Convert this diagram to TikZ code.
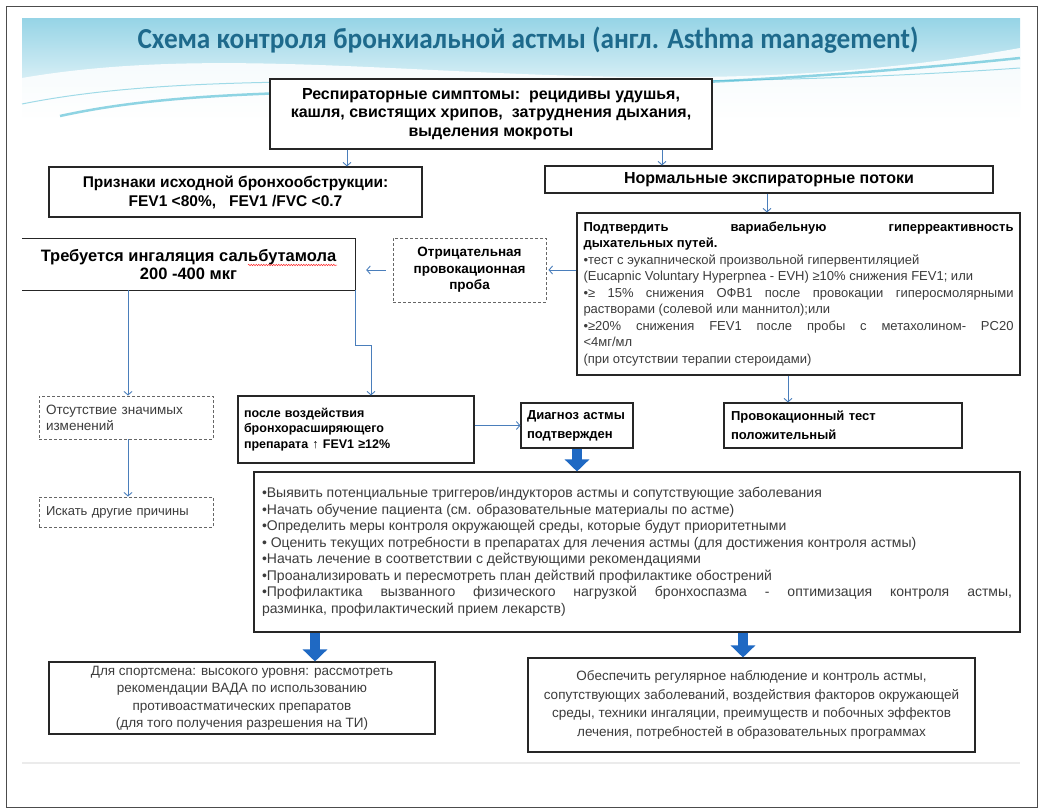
\documentclass[tikz,border=0pt]{standalone}
\usepackage{fontspec}
\setmainfont{Liberation Sans}
\newfontfamily\titlefont[FakeStretch=0.94]{Carlito}
\usetikzlibrary{arrows.meta,decorations.pathmorphing}

\definecolor{linkblue}{RGB}{74,126,187}
\definecolor{blockblue}{RGB}{31,105,195}
\definecolor{titleteal}{RGB}{30,106,140}
\definecolor{bannerblue}{RGB}{150,212,230}
\definecolor{wavecyan}{RGB}{70,185,210}
\definecolor{textgray}{RGB}{60,60,60}

\newcommand{\spreadline}[2]{\makebox[#1][s]{#2}}

\begin{document}
\begin{tikzpicture}[x=1pt,y=-1pt,>={Straight Barb[length=3.5pt,width=8pt]}]
 \tikzset{box/.style={draw=black!85, line width=1.1pt, fill=white, inner sep=3pt},
   dbox/.style={draw=black!60, line width=0.9pt, dash pattern=on 3pt off 2pt, fill=white, inner sep=3pt},
   link/.style={->, draw=linkblue, line width=0.9pt},
   bigarrow/.style={-{Triangle[length=12pt,width=24pt]}, draw=blockblue, line width=10pt},
   spell/.style={draw=red!80, line width=0.5pt, decorate, decoration={snake, amplitude=0.8pt, segment length=2.5pt}}}
 \useasboundingbox (0,0) rectangle (1043,811);
 % slide frame and banner
 \draw[black!70, line width=1pt] (6,6) rectangle (1037,807);
 \fill[top color=bannerblue, bottom color=white] (22,18) rectangle (1020,118);
 \fill[white, opacity=0.85] (22,78) .. controls (300,30) and (620,120) .. (1020,48) -- (1020,118) -- (22,118) -- cycle;
 \draw[wavecyan, line width=2.5pt, opacity=0.6] (60,116) .. controls (260,72) and (520,110) .. (1020,58);
 \draw[wavecyan, line width=1pt, opacity=0.5] (22,104) .. controls (240,60) and (560,100) .. (1020,68);
 \draw[black!8, line width=2pt] (22,763) -- (1020,763);
 \node[font=\titlefont\bfseries\fontsize{29}{32}\selectfont, text=titleteal] (title) at (528,40) {Схема контроля бронхиальной астмы (англ. Asthma management)};

 % boxes
 \node[box, minimum width=442pt, minimum height=70pt, align=center, font=\bfseries\fontsize{16}{18.5}\selectfont] (symp) at (491,114) {Респираторные симптомы:\ \ рецидивы удушья,\\ кашля, свистящих хрипов,\ \ затруднения дыхания,\\ выделения мокроты};
 \node[box, minimum width=373pt, minimum height=50pt, align=center, font=\bfseries\fontsize{15.5}{19}\selectfont] (priz) at (235.5,192) {Признаки исходной бронхообструкции:\\ FEV1 <80\%,\ \ \ FEV1 /FVC <0.7};
 \node[box, minimum width=448pt, minimum height=27pt, font=\bfseries\fontsize{16}{18}\selectfont] (norm) at (769,179.5) {Нормальные экспираторные потоки};
 \node[box, minimum width=443pt, minimum height=162pt, align=left, text=textgray, font=\fontsize{13}{16.5}\selectfont] (conf) at (798.5,294) {{\bfseries\color{black}\spreadline{430pt}{Подтвердить вариабельную гиперреактивность}}\\ {\bfseries\color{black}дыхательных путей.}\\ •тест с эукапнической произвольной гипервентиляцией\\ (Eucapnic Voluntary Hyperpnea - EVH) ≥10\% снижения FEV1; или\\ \spreadline{430pt}{•≥ 15\% снижения ОФВ1 после провокации гиперосмолярными}\\ растворами (солевой или маннитол);или\\ \spreadline{430pt}{•≥20\% снижения FEV1 после пробы с метахолином- PC20}\\ <4мг/мл\\ (при отсутствии терапии стероидами)};
 \node[minimum width=333pt, minimum height=51pt, align=center, font=\bfseries\fontsize{16.5}{18}\selectfont] (sal) at (188.5,264.5) {Требуется ингаляция сальбутамола\\ 200 -400 мкг};
 \draw[black!85, line width=1.1pt] (sal.north west) -- (sal.north east) -- (sal.south east) -- (sal.south west);
 \draw[spell] ([xshift=59.5pt,yshift=-0.5pt]sal.center) -- ++(89,0);
 \node[dbox, minimum width=153pt, minimum height=64pt, align=center, font=\bfseries\fontsize{13.5}{16.5}\selectfont] (neg) at (469.5,270) {Отрицательная\\ провокационная\\ проба};
 \node[dbox, minimum width=174pt, minimum height=43pt, text width=160pt, align=left, text=textgray, font=\fontsize{13.5}{16}\selectfont] (abs) at (126,417.5) {Отсутствие значимых\\ изменений};
 \node[dbox, minimum width=174pt, minimum height=30pt, text width=160pt, align=left, text=textgray, font=\fontsize{13}{16}\selectfont] (other) at (126,512) {Искать другие причины};
 \node[box, minimum width=236pt, minimum height=67pt, text width=224pt, align=left, font=\bfseries\fontsize{12.5}{15.5}\selectfont] (posle) at (356,429.5) {после воздействия\\ бронхорасширяющего\\ препарата ↑ FEV1 ≥12\%};
 \node[box, minimum width=112pt, minimum height=45pt, text width=100pt, align=left, font=\bfseries\fontsize{13}{19}\selectfont] (diag) at (577,425.5) {Диагноз астмы\\ подтвержден};
 \node[box, minimum width=238pt, minimum height=45pt, text width=224pt, align=left, font=\bfseries\fontsize{13}{19}\selectfont] (prov) at (843,425.5) {Провокационный тест\\ положительный};
 \node[box, minimum width=766pt, minimum height=160pt, align=left, text=textgray, font=\fontsize{14}{16.5}\selectfont] (list) at (637,552) {•Выявить потенциальные триггеров/индукторов астмы и сопутствующие заболевания\\ •Начать обучение пациента (см. образовательные материалы по астме)\\ •Определить меры контроля окружающей среды, которые будут приоритетными\\ • Оценить текущих потребности в препаратах для лечения астмы (для достижения контроля астмы)\\ •Начать лечение в соответствии с действующими рекомендациями\\ •Проанализировать и пересмотреть план действий профилактике обострений\\ \spreadline{750pt}{•Профилактика вызванного физического нагрузкой бронхоспазма - оптимизация контроля астмы,}\\ разминка, профилактический прием лекарств)};
 \node[box, minimum width=386pt, minimum height=72pt, align=center, text=textgray, font=\fontsize{13.5}{17.5}\selectfont] (sport) at (242,698) {Для спортсмена: высокого уровня: рассмотреть\\ рекомендации ВАДА по использованию\\ противоастматических препаратов\\ (для того получения разрешения на ТИ)};
 \node[box, minimum width=447pt, minimum height=94pt, align=center, text=textgray, font=\fontsize{13.5}{18.5}\selectfont] (monitor) at (751.5,705) {Обеспечить регулярное наблюдение и контроль астмы,\\ сопутствующих заболеваний, воздействия факторов окружающей\\ среды, техники ингаляции, преимуществ и побочных эффектов\\ лечения, потребностей в образовательных программах};

 % connectors
 \draw[link] ([xshift=-144pt]symp.south) -- ([xshift=111.5pt]priz.north);
 \draw[link] ([xshift=171pt]symp.south) -- ([xshift=-107pt]norm.north);
 \draw[link] ([xshift=-2pt]norm.south) -- ([xshift=-31.5pt]conf.north);
 \draw[link, shorten >=2pt] (conf.west |- neg.east) -- (neg.east);
 \draw[link, shorten <=7pt, shorten >=11pt] (neg.west) -- (neg.west -| sal.east);
 \draw[link] ([xshift=-60.5pt]sal.south) -- ([xshift=2pt]abs.north);
 \draw[link] (sal.south east) -- ++(0,55) -| ([xshift=15pt]posle.north);
 \draw[link] ([xshift=2pt]abs.south) -- ([xshift=2pt]other.north);
 \draw[link] (posle.east |- diag.west) -- (diag.west);
 \draw[link] ([xshift=-10.5pt]conf.south) -- ([xshift=-55pt]prov.north);
 \draw[bigarrow] (diag.south) -- (diag.south |- list.north);
 \draw[bigarrow] ([xshift=-322pt]list.south) -- ([xshift=73pt]sport.north);
 \draw[bigarrow] ([xshift=106pt]list.south) -- ([xshift=-8.5pt]monitor.north);
\end{tikzpicture}
\end{document}
